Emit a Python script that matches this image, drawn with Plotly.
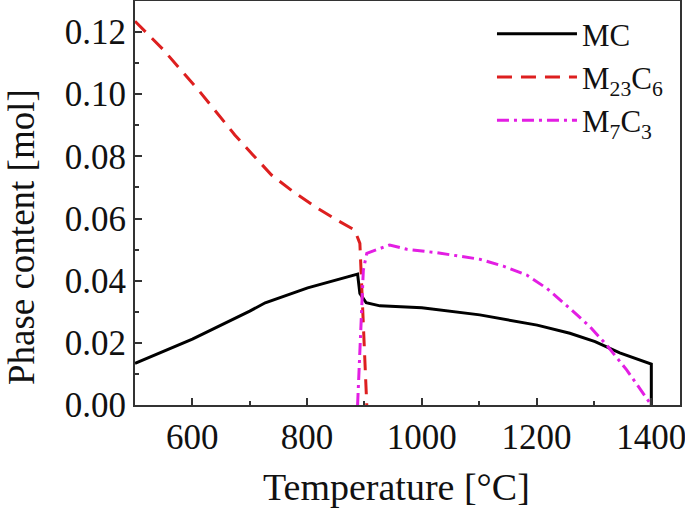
import plotly.graph_objects as go

# MC (solid black)
mc_T = [500, 600, 700, 727, 801, 840, 888, 892, 903, 927, 1000, 1101, 1201, 1258, 1302, 1345, 1400, 1400]
mc_y = [0.0134, 0.0212, 0.0302, 0.0329, 0.0377, 0.0397, 0.0421, 0.0359, 0.0329, 0.0319, 0.0313, 0.0290, 0.0257, 0.0231, 0.0204, 0.0168, 0.0132, 0.0]

# M23C6 (red dashed)
m23_T = [500, 549, 613, 674, 706, 738, 776, 814, 852, 883, 892, 895, 898, 904]
m23_y = [0.1235, 0.1144, 0.1008, 0.0869, 0.0804, 0.0740, 0.0686, 0.0638, 0.0595, 0.0563, 0.0520, 0.0381, 0.0220, 0.0]

# M7C3 (magenta dash-dot)
m7_T = [888, 892, 895, 898, 904, 915, 944, 974, 1026, 1101, 1142, 1183, 1218, 1258, 1293, 1322, 1357, 1400]
m7_y = [0.0, 0.0167, 0.0328, 0.0434, 0.0488, 0.0496, 0.0515, 0.0501, 0.0490, 0.0469, 0.0447, 0.0418, 0.0375, 0.0311, 0.0252, 0.0193, 0.0113, 0.0]

x_title = "Temperature [°C]"
y_title = "Phase content [mol]"

FONT = "Liberation Serif"

fig = go.Figure()
fig.add_trace(go.Scatter(x=mc_T, y=mc_y, mode="lines", name="MC",
                         line=dict(color="#000000", width=3)))
fig.add_trace(go.Scatter(x=m23_T, y=m23_y, mode="lines", name="M<sub>23</sub>C<sub>6</sub>",
                         line=dict(color="#dd1f1f", width=3, dash="15px,9px")))
fig.add_trace(go.Scatter(x=m7_T, y=m7_y, mode="lines", name="M<sub>7</sub>C<sub>3</sub>",
                         line=dict(color="#e31ee3", width=3, dash="12px,5px,3px,5px")))

axis_common = dict(
    showline=True, linecolor="#333333", linewidth=2, mirror=True,
    ticks="inside", ticklen=7, tickwidth=1.5, tickcolor="#333333",
    showgrid=False, zeroline=False, automargin=False,
    ticklabeloverflow="allow",
    tickfont=dict(family=FONT, size=35, color="#111111"),
)

fig.update_layout(
    width=685, height=508,
    margin=dict(l=135, r=5, t=1, b=103, autoexpand=False),
    paper_bgcolor="white", plot_bgcolor="white",
    font=dict(family=FONT, color="#111111"),
    xaxis=dict(range=[500, 1450], dtick=200, tick0=0,
               minor=dict(dtick=100, ticks="inside", ticklen=4, tickcolor="#333333"),
               **axis_common),
    yaxis=dict(range=[0, 0.13], dtick=0.02, tick0=0, tickformat=".2f",
               minor=dict(dtick=0.01, ticks="inside", ticklen=4, tickcolor="#333333"),
               **axis_common),
    legend=dict(x=0.655, y=0.985, xanchor="left", yanchor="top",
                font=dict(family=FONT, size=31, color="#111111"),
                bgcolor="rgba(0,0,0,0)", itemwidth=80, tracegroupgap=0),
    showlegend=True,
    annotations=[
        dict(text=x_title, xref="paper", yref="paper", x=0.479, y=-0.203,
             xanchor="center", yanchor="middle", showarrow=False,
             font=dict(family=FONT, size=38, color="#111111")),
        dict(text=y_title, xref="paper", yref="paper", x=-0.207, y=0.416,
             xanchor="center", yanchor="middle", showarrow=False, textangle=-90,
             font=dict(family=FONT, size=37, color="#111111")),
    ],
)

fig.write_html("out.html", config={"displayModeBar": False},
               post_script="document.body.style.margin='0';document.body.style.overflow='hidden';")
